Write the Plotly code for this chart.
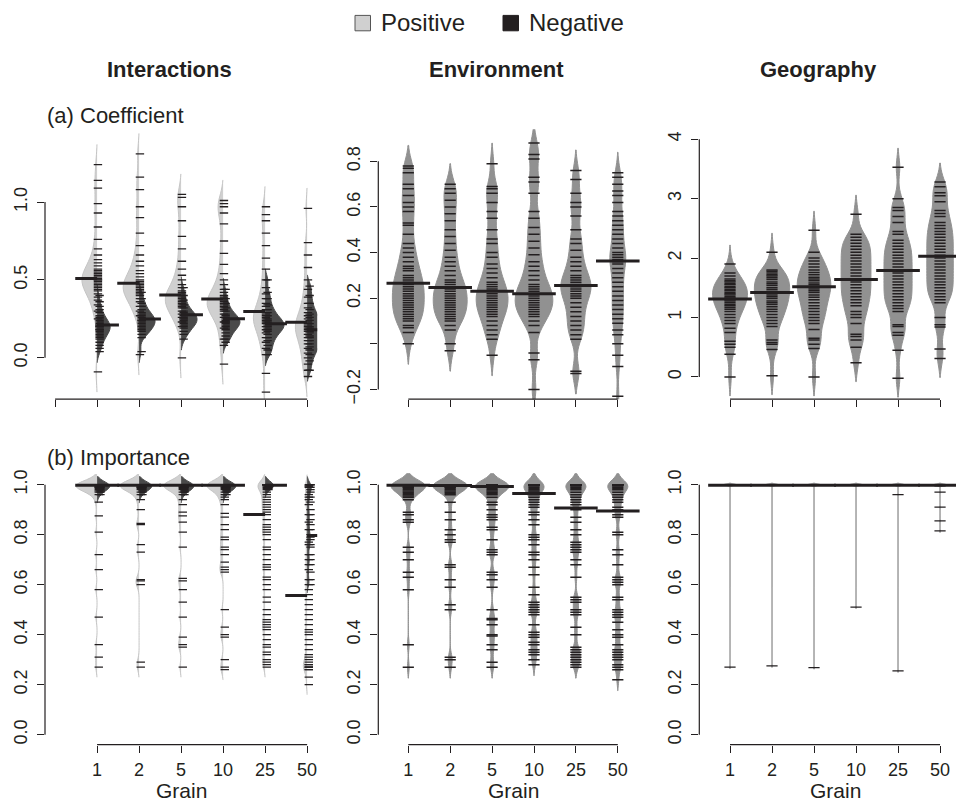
import plotly.graph_objects as go

# ---------------- data ----------------
grain_labels = ["1", "2", "5", "10", "25", "50"]
positions = [1, 2, 3, 4, 5, 6]

# (a) Coefficient - Interactions, positive (left half) and negative (right half)
coef_int_pos = [
    [1.24, 1.14, 1.09, 0.99, 0.93, 0.84, 0.76, 0.7, 0.66, 0.63, 0.61, 0.59, 0.57, 0.56, 0.55, 0.54, 0.53, 0.52, 0.51, 0.5, 0.5, 0.49, 0.48, 0.47, 0.46, 0.45, 0.44, 0.43, 0.41, 0.39, 0.37, 0.34, 0.3, 0.25, -0.09],
    [1.31, 1.16, 1.08, 0.97, 0.9, 0.8, 0.72, 0.66, 0.62, 0.59, 0.56, 0.54, 0.52, 0.5, 0.49, 0.48, 0.47, 0.46, 0.45, 0.44, 0.43, 0.42, 0.41, 0.4, 0.38, 0.36, 0.33, 0.3, 0.27, 0.02],
    [1.05, 1.03, 0.97, 0.88, 0.78, 0.7, 0.62, 0.57, 0.53, 0.5, 0.47, 0.45, 0.43, 0.42, 0.41, 0.4, 0.39, 0.38, 0.37, 0.36, 0.35, 0.34, 0.33, 0.32, 0.3, 0.28, 0.26, 0.23, 0.2, 0.0],
    [1.01, 0.99, 0.97, 0.93, 0.86, 0.75, 0.67, 0.6, 0.54, 0.5, 0.47, 0.44, 0.42, 0.4, 0.39, 0.38, 0.37, 0.36, 0.35, 0.34, 0.33, 0.32, 0.31, 0.3, 0.28, 0.26, 0.23, 0.19, 0.12, 0.08, -0.04],
    [0.97, 0.92, 0.88, 0.8, 0.72, 0.64, 0.57, 0.5, 0.45, 0.41, 0.38, 0.35, 0.33, 0.31, 0.29, 0.28, 0.27, 0.26, 0.25, 0.24, 0.23, 0.22, 0.2, 0.18, 0.16, 0.13, 0.1, 0.06, 0.02, -0.1, -0.22],
    [0.96, 0.74, 0.66, 0.58, 0.5, 0.44, 0.39, 0.35, 0.32, 0.29, 0.27, 0.25, 0.23, 0.22, 0.21, 0.2, 0.19, 0.18, 0.17, 0.15, 0.13, 0.11, 0.09, 0.06, 0.03, 0.0, -0.04, -0.08, -0.12],
]
coef_int_neg = [
    [0.40, 0.36, 0.33, 0.31, 0.29, 0.27, 0.26, 0.25, 0.24, 0.23, 0.22, 0.21, 0.21, 0.2, 0.2, 0.19, 0.18, 0.18, 0.17, 0.16, 0.15, 0.14, 0.13, 0.12, 0.1, 0.08, 0.06, 0.04],
    [0.42, 0.38, 0.35, 0.33, 0.31, 0.29, 0.28, 0.27, 0.26, 0.25, 0.24, 0.24, 0.23, 0.22, 0.21, 0.2, 0.19, 0.18, 0.17, 0.15, 0.13, 0.04],
    [0.45, 0.4, 0.37, 0.34, 0.32, 0.3, 0.29, 0.28, 0.27, 0.26, 0.25, 0.25, 0.24, 0.23, 0.22, 0.21, 0.2, 0.19, 0.17, 0.15, 0.12],
    [0.44, 0.38, 0.35, 0.32, 0.3, 0.28, 0.27, 0.26, 0.25, 0.24, 0.23, 0.23, 0.22, 0.21, 0.2, 0.19, 0.18, 0.16, 0.14, 0.12, 0.1],
    [0.5, 0.42, 0.38, 0.34, 0.31, 0.29, 0.27, 0.25, 0.24, 0.23, 0.22, 0.21, 0.2, 0.19, 0.18, 0.17, 0.15, 0.13, 0.11, 0.08, 0.05, 0.02],
    [0.46, 0.4, 0.35, 0.31, 0.28, 0.26, 0.24, 0.22, 0.2, 0.19, 0.18, 0.17, 0.16, 0.14, 0.13, 0.11, 0.09, 0.07, 0.05, 0.02, -0.02, -0.08],
]
coef_int_pos_mean = [0.51, 0.478, 0.403, 0.378, 0.297, 0.228]
coef_int_neg_mean = [0.21, 0.249, 0.276, 0.25, 0.219, 0.18]

# (a) Coefficient - Environment
coef_env = [
    [0.78, 0.77, 0.75, 0.7, 0.68, 0.65, 0.62, 0.6, 0.58, 0.53, 0.52, 0.48, 0.44, 0.42, 0.4, 0.38, 0.36, 0.34, 0.33, 0.32, 0.3, 0.29, 0.28, 0.27, 0.26, 0.25, 0.24, 0.23, 0.22, 0.21, 0.2, 0.19, 0.18, 0.17, 0.16, 0.15, 0.14, 0.13, 0.12, 0.11, 0.1, 0.08, 0.07, 0.05, 0.0],
    [0.7, 0.68, 0.66, 0.63, 0.6, 0.57, 0.54, 0.5, 0.47, 0.44, 0.41, 0.38, 0.36, 0.34, 0.32, 0.3, 0.28, 0.27, 0.26, 0.25, 0.24, 0.23, 0.22, 0.21, 0.2, 0.19, 0.18, 0.17, 0.16, 0.15, 0.14, 0.13, 0.12, 0.11, 0.1, 0.08, 0.06, 0.0, -0.03],
    [0.79, 0.69, 0.68, 0.66, 0.62, 0.58, 0.55, 0.5, 0.46, 0.44, 0.4, 0.38, 0.35, 0.33, 0.31, 0.29, 0.27, 0.26, 0.25, 0.24, 0.23, 0.22, 0.21, 0.2, 0.19, 0.18, 0.17, 0.16, 0.15, 0.14, 0.13, 0.12, 0.1, 0.08, 0.06, 0.04, 0.02, -0.05],
    [0.88, 0.83, 0.81, 0.73, 0.71, 0.66, 0.58, 0.55, 0.51, 0.48, 0.45, 0.42, 0.39, 0.36, 0.34, 0.32, 0.3, 0.28, 0.26, 0.25, 0.24, 0.23, 0.22, 0.21, 0.2, 0.19, 0.18, 0.17, 0.16, 0.15, 0.14, 0.13, 0.12, 0.1, 0.08, 0.05, -0.04, -0.07, -0.2],
    [0.76, 0.72, 0.66, 0.62, 0.6, 0.56, 0.5, 0.46, 0.44, 0.41, 0.38, 0.36, 0.34, 0.32, 0.3, 0.29, 0.28, 0.27, 0.26, 0.25, 0.24, 0.23, 0.22, 0.21, 0.2, 0.18, 0.16, 0.14, 0.12, 0.1, 0.08, 0.06, 0.04, 0.02, -0.12, -0.13],
    [0.75, 0.73, 0.7, 0.67, 0.65, 0.62, 0.58, 0.56, 0.54, 0.52, 0.5, 0.48, 0.46, 0.44, 0.42, 0.4, 0.39, 0.38, 0.37, 0.36, 0.35, 0.33, 0.31, 0.29, 0.27, 0.25, 0.23, 0.21, 0.19, 0.17, 0.15, 0.13, 0.11, 0.09, 0.06, 0.04, 0.0, -0.05, -0.1, -0.23],
]
coef_env_mean = [0.266, 0.247, 0.23, 0.219, 0.256, 0.363]

# (a) Coefficient - Geography
coef_geo = [
    [1.9, 1.75, 1.7, 1.65, 1.62, 1.6, 1.57, 1.55, 1.52, 1.5, 1.47, 1.45, 1.42, 1.4, 1.38, 1.35, 1.33, 1.3, 1.28, 1.25, 1.22, 1.2, 1.17, 1.14, 1.1, 1.05, 1.0, 0.95, 0.9, 0.82, 0.75, 0.6, 0.55, 0.5, 0.38, 0.0],
    [2.1, 1.8, 1.78, 1.75, 1.72, 1.7, 1.67, 1.64, 1.6, 1.57, 1.54, 1.5, 1.47, 1.44, 1.41, 1.38, 1.35, 1.32, 1.28, 1.25, 1.22, 1.18, 1.14, 1.1, 1.05, 1.0, 0.95, 0.9, 0.85, 0.62, 0.58, 0.55, 0.46, 0.02],
    [2.47, 2.1, 2.0, 1.95, 1.9, 1.85, 1.8, 1.76, 1.72, 1.68, 1.65, 1.62, 1.58, 1.55, 1.52, 1.48, 1.45, 1.42, 1.38, 1.34, 1.3, 1.25, 1.2, 1.15, 1.1, 1.05, 1.0, 0.95, 0.9, 0.8, 0.65, 0.62, 0.55, 0.48, 0.0],
    [2.74, 2.4, 2.35, 2.3, 2.25, 2.2, 2.15, 2.1, 2.05, 2.0, 1.95, 1.9, 1.85, 1.8, 1.75, 1.7, 1.65, 1.6, 1.55, 1.5, 1.45, 1.4, 1.35, 1.3, 1.25, 1.2, 1.1, 1.05, 1.0, 0.9, 0.72, 0.68, 0.62, 0.5, 0.24],
    [3.53, 3.0, 2.85, 2.8, 2.7, 2.6, 2.45, 2.4, 2.3, 2.25, 2.2, 2.15, 2.1, 2.05, 2.0, 1.95, 1.9, 1.85, 1.8, 1.75, 1.7, 1.65, 1.6, 1.55, 1.5, 1.45, 1.4, 1.35, 1.3, 1.25, 1.2, 1.15, 1.1, 0.88, 0.85, 0.75, 0.7, 0.45, -0.02],
    [3.28, 3.2, 3.1, 3.05, 2.95, 2.8, 2.75, 2.7, 2.6, 2.55, 2.5, 2.45, 2.4, 2.35, 2.3, 2.25, 2.2, 2.15, 2.1, 2.05, 2.0, 1.95, 1.9, 1.85, 1.8, 1.75, 1.7, 1.65, 1.6, 1.55, 1.5, 1.45, 1.4, 1.35, 1.3, 1.25, 1.0, 0.88, 0.84, 0.47, 0.31],
]
coef_geo_mean = [1.31, 1.42, 1.52, 1.64, 1.79, 2.03]

# (b) Importance - Interactions
imp_int_pos = [
    [1.0, 1.0, 1.0, 1.0, 1.0, 1.0, 1.0, 1.0, 1.0, 1.0, 1.0, 1.0, 0.995, 0.995, 0.99, 0.99, 0.985, 0.98, 0.975, 0.97, 0.96, 0.93, 0.875, 0.81, 0.72, 0.66, 0.58, 0.47, 0.36, 0.31, 0.27],
    [1.0, 1.0, 1.0, 1.0, 1.0, 1.0, 1.0, 1.0, 1.0, 1.0, 1.0, 1.0, 0.995, 0.99, 0.99, 0.985, 0.98, 0.97, 0.96, 0.94, 0.9, 0.845, 0.84, 0.76, 0.73, 0.62, 0.615, 0.6, 0.29, 0.27],
    [1.0, 1.0, 1.0, 1.0, 1.0, 1.0, 1.0, 1.0, 1.0, 1.0, 1.0, 1.0, 0.995, 0.99, 0.985, 0.98, 0.97, 0.96, 0.94, 0.92, 0.89, 0.875, 0.85, 0.81, 0.75, 0.625, 0.615, 0.58, 0.53, 0.47, 0.39, 0.36, 0.35, 0.27],
    [1.0, 1.0, 1.0, 1.0, 1.0, 1.0, 1.0, 1.0, 1.0, 1.0, 1.0, 1.0, 0.995, 0.99, 0.985, 0.98, 0.97, 0.96, 0.95, 0.94, 0.92, 0.885, 0.87, 0.84, 0.82, 0.79, 0.78, 0.75, 0.74, 0.72, 0.69, 0.67, 0.66, 0.65, 0.5, 0.43, 0.4, 0.39, 0.3, 0.27, 0.26],
    [1.0, 1.0, 1.0, 1.0, 1.0, 1.0, 1.0, 1.0, 0.995, 0.99, 0.985, 0.98, 0.97, 0.96, 0.95, 0.94, 0.93, 0.92, 0.91, 0.9, 0.89, 0.88, 0.86, 0.84, 0.83, 0.82, 0.81, 0.8, 0.78, 0.75, 0.74, 0.72, 0.7, 0.68, 0.67, 0.66, 0.63, 0.62, 0.6, 0.58, 0.55, 0.53, 0.5, 0.48, 0.46, 0.45, 0.44, 0.43, 0.42, 0.4, 0.38, 0.36, 0.35, 0.33, 0.32, 0.3, 0.29, 0.28, 0.27],
    [1.0, 0.995, 0.99, 0.96, 0.95, 0.94, 0.92, 0.88, 0.85, 0.82, 0.77, 0.76, 0.72, 0.7, 0.68, 0.66, 0.62, 0.6, 0.58, 0.56, 0.54, 0.52, 0.5, 0.48, 0.46, 0.44, 0.42, 0.41, 0.4, 0.38, 0.36, 0.34, 0.32, 0.31, 0.3, 0.29, 0.28, 0.28, 0.27, 0.27, 0.27, 0.26, 0.26, 0.23, 0.2],
]
imp_int_neg = [
    [1.0, 1.0, 1.0, 1.0, 1.0, 1.0, 1.0, 1.0, 0.995, 0.99, 0.99, 0.985, 0.98, 0.975, 0.97, 0.96],
    [1.0, 1.0, 1.0, 1.0, 1.0, 1.0, 1.0, 1.0, 0.995, 0.99, 0.99, 0.985, 0.98, 0.975, 0.97, 0.96],
    [1.0, 1.0, 1.0, 1.0, 1.0, 1.0, 1.0, 1.0, 0.995, 0.99, 0.99, 0.985, 0.98, 0.975, 0.97, 0.96],
    [1.0, 1.0, 1.0, 1.0, 1.0, 1.0, 1.0, 1.0, 0.995, 0.99, 0.99, 0.985, 0.98, 0.975, 0.97, 0.96],
    [1.0, 1.0, 1.0, 1.0, 1.0, 1.0, 1.0, 1.0, 0.995, 0.99, 0.985, 0.98],
    [1.0, 1.0, 0.99, 0.98, 0.97, 0.95, 0.93, 0.9, 0.88, 0.86, 0.84, 0.82, 0.8, 0.79, 0.78, 0.76, 0.75, 0.72, 0.7, 0.68, 0.65, 0.62, 0.6],
]
imp_int_pos_mean = [0.998, 0.998, 0.998, 0.998, 0.881, 0.557]
imp_int_neg_mean = [0.998, 0.998, 0.998, 0.998, 0.998, 0.797]

# (b) Importance - Environment
imp_env = [
    [1.0, 1.0, 1.0, 1.0, 1.0, 1.0, 1.0, 1.0, 1.0, 1.0, 1.0, 1.0, 1.0, 1.0, 0.995, 0.99, 0.99, 0.985, 0.98, 0.975, 0.97, 0.965, 0.96, 0.955, 0.95, 0.94, 0.89, 0.88, 0.86, 0.85, 0.75, 0.73, 0.7, 0.65, 0.63, 0.58, 0.36, 0.27],
    [1.0, 1.0, 1.0, 1.0, 1.0, 1.0, 1.0, 1.0, 1.0, 1.0, 1.0, 1.0, 1.0, 1.0, 0.995, 0.99, 0.99, 0.985, 0.98, 0.975, 0.97, 0.965, 0.96, 0.93, 0.89, 0.86, 0.82, 0.8, 0.78, 0.77, 0.68, 0.67, 0.62, 0.59, 0.52, 0.5, 0.31, 0.3, 0.27],
    [1.0, 1.0, 1.0, 1.0, 1.0, 1.0, 1.0, 1.0, 1.0, 1.0, 1.0, 1.0, 0.995, 0.99, 0.99, 0.985, 0.98, 0.975, 0.97, 0.965, 0.96, 0.95, 0.93, 0.92, 0.9, 0.88, 0.87, 0.86, 0.83, 0.82, 0.78, 0.74, 0.73, 0.72, 0.65, 0.64, 0.62, 0.59, 0.5, 0.465, 0.46, 0.44, 0.4, 0.395, 0.36, 0.34, 0.29, 0.27],
    [1.0, 1.0, 1.0, 1.0, 1.0, 1.0, 1.0, 1.0, 0.995, 0.99, 0.985, 0.98, 0.975, 0.97, 0.96, 0.95, 0.94, 0.93, 0.92, 0.91, 0.89, 0.88, 0.86, 0.84, 0.8, 0.79, 0.78, 0.76, 0.73, 0.72, 0.7, 0.67, 0.64, 0.59, 0.56, 0.53, 0.52, 0.51, 0.5, 0.49, 0.48, 0.44, 0.41, 0.4, 0.39, 0.37, 0.36, 0.34, 0.33, 0.32, 0.3, 0.28],
    [1.0, 1.0, 1.0, 1.0, 1.0, 1.0, 1.0, 1.0, 0.995, 0.99, 0.985, 0.98, 0.97, 0.96, 0.95, 0.94, 0.93, 0.92, 0.9, 0.87, 0.85, 0.82, 0.8, 0.77, 0.76, 0.75, 0.74, 0.73, 0.7, 0.68, 0.63, 0.55, 0.54, 0.53, 0.5, 0.49, 0.48, 0.43, 0.4, 0.35, 0.34, 0.33, 0.32, 0.31, 0.3, 0.29, 0.28, 0.27],
    [1.0, 1.0, 1.0, 1.0, 1.0, 1.0, 1.0, 1.0, 0.995, 0.99, 0.985, 0.98, 0.97, 0.96, 0.95, 0.94, 0.93, 0.91, 0.9, 0.88, 0.87, 0.81, 0.8, 0.74, 0.72, 0.68, 0.63, 0.62, 0.61, 0.6, 0.55, 0.54, 0.5, 0.49, 0.48, 0.47, 0.45, 0.42, 0.4, 0.39, 0.36, 0.34, 0.33, 0.32, 0.31, 0.3, 0.28, 0.27, 0.26, 0.22],
]
imp_env_mean = [0.998, 0.997, 0.993, 0.965, 0.907, 0.895]

# (b) Importance - Geography
imp_geo = [
    [1.0, 1.0, 1.0, 1.0, 1.0, 1.0, 1.0, 1.0, 1.0, 1.0, 1.0, 1.0, 1.0, 1.0, 1.0, 0.27],
    [1.0, 1.0, 1.0, 1.0, 1.0, 1.0, 1.0, 1.0, 1.0, 1.0, 1.0, 1.0, 1.0, 1.0, 1.0, 0.275],
    [1.0, 1.0, 1.0, 1.0, 1.0, 1.0, 1.0, 1.0, 1.0, 1.0, 1.0, 1.0, 1.0, 1.0, 1.0, 0.268],
    [1.0, 1.0, 1.0, 1.0, 1.0, 1.0, 1.0, 1.0, 1.0, 1.0, 1.0, 1.0, 1.0, 1.0, 1.0, 0.51],
    [1.0, 1.0, 1.0, 1.0, 1.0, 1.0, 1.0, 1.0, 1.0, 1.0, 1.0, 1.0, 1.0, 1.0, 0.96, 0.255],
    [1.0, 1.0, 1.0, 1.0, 1.0, 1.0, 1.0, 1.0, 1.0, 1.0, 1.0, 0.995, 0.97, 0.91, 0.855, 0.815],
]
imp_geo_mean = [0.998, 0.998, 0.998, 0.998, 0.998, 0.998]

# ---------------- style ----------------
W, H = 956, 809
FONT = "Liberation Sans, Arial, Helvetica, sans-serif"
INK = "#231f20"
LIGHT = "#d0d0d0"
DARK = "#4a4a4a"
MID = "#919191"

# violin widths (style, data units) per bean
w_int_pos_top = [0.72, 0.76, 0.75, 0.76, 0.56, 0.56]
w_int_neg_top = [0.62, 0.76, 0.76, 0.8, 0.9, 0.9]
w_env_top = [0.76, 0.81, 0.76, 0.9, 0.72, 0.38]
w_geo_top = [0.83, 0.84, 0.8, 0.71, 0.67, 0.63]
w_int_pos_bot = [1.0, 0.9, 0.82, 0.76, 0.34, 0.18]
w_int_neg_bot = [0.6, 0.6, 0.6, 0.6, 0.4, 0.2]
w_env_bot = [0.82, 0.82, 0.8, 0.48, 0.48, 0.48]
w_geo_bot = [0.3, 0.3, 0.3, 0.3, 0.3, 0.3]

# subplot geometry (screen pixels of the reference)
col_px = [(45, 317.2), (378.3, 648.8), (699.3, 956)]
col_xrange = [[-0.24, 6.24], [0.284, 6.74], [0.269, 6.38]]
row_px = [(130, 401.7), (465.1, 749.3)]
top_yrange = [[-0.266, 1.468], [-0.243, 0.941], [-0.375, 4.17]]
bot_yrange = [-0.04, 1.09]


def px2x(px):
    return px / W


def px2y(py):
    return 1 - py / H


def xdom(a, b):
    return [px2x(a), min(px2x(b), 1.0)]


def ydom(top, bot):
    return [px2y(bot), px2y(top)]


fig = go.Figure()


def ax_ids(row, col):
    k = row * 3 + col + 1
    return ("x" if k == 1 else f"x{k}"), ("y" if k == 1 else f"y{k}")


def add_bean(row, col, pos, vals, side, width, bw, fill, line_col):
    xa, ya = ax_ids(row, col)
    fig.add_trace(go.Violin(
        x0=pos, y=vals, side=side, width=width, scalemode="width",
        bandwidth=bw, fillcolor=fill, line=dict(color=line_col, width=1),
        points=False, hoverinfo="skip", showlegend=False,
        xaxis=xa, yaxis=ya, orientation="v", spanmode="soft",
    ))


def add_beanlines(row, col, pos, vals, size=8, shift=0.0, lw=1.1):
    xa, ya = ax_ids(row, col)
    fig.add_trace(go.Scatter(
        x=[pos + shift] * len(vals), y=vals, mode="markers",
        marker=dict(symbol="line-ew", size=size, color=INK,
                    line=dict(width=lw, color=INK)),
        hoverinfo="skip", showlegend=False, xaxis=xa, yaxis=ya,
    ))


def add_means(row, col, means, part):
    xa, ya = ax_ids(row, col)
    xs, ys = [], []
    for p, m in zip(positions, means):
        if part == "left":
            xs += [p - 0.52, p, None]
        elif part == "right":
            xs += [p, p + 0.52, None]
        else:
            xs += [p - 0.52, p + 0.52, None]
        ys += [m, m, None]
    fig.add_trace(go.Scatter(
        x=xs, y=ys, mode="lines", line=dict(color=INK, width=3),
        hoverinfo="skip", showlegend=False, xaxis=xa, yaxis=ya,
    ))


# ---- top row: coefficients ----
for i, p in enumerate(positions):
    add_bean(0, 0, p, coef_int_pos[i], "negative", w_int_pos_top[i], 0.065, LIGHT, "#c4c4c4")
    add_bean(0, 0, p, coef_int_neg[i], "positive", w_int_neg_top[i], 0.035, DARK, DARK)
    add_bean(0, 1, p, coef_env[i], "both", w_env_top[i], 0.045, MID, MID)
    add_bean(0, 2, p, coef_geo[i], "both", w_geo_top[i], 0.16, MID, MID)
for i, p in enumerate(positions):
    add_beanlines(0, 0, p, coef_int_pos[i], size=6, shift=0.02, lw=1.3)
    add_beanlines(0, 0, p, coef_int_neg[i], size=6, shift=0.06, lw=1.3)
    add_beanlines(0, 1, p, coef_env[i], size=8, lw=1.5)
    add_beanlines(0, 2, p, coef_geo[i], size=8, lw=1.5)
add_means(0, 0, coef_int_pos_mean, "left")
add_means(0, 0, coef_int_neg_mean, "right")
add_means(0, 1, coef_env_mean, "both")
add_means(0, 2, coef_geo_mean, "both")

# ---- bottom row: importance ----
for i, p in enumerate(positions):
    add_bean(1, 0, p, imp_int_pos[i], "negative", w_int_pos_bot[i], 0.02, LIGHT, "#c4c4c4")
    add_bean(1, 0, p, imp_int_neg[i], "positive", w_int_neg_bot[i], 0.016, DARK, DARK)
    add_bean(1, 1, p, imp_env[i], "both", w_env_bot[i], 0.022, MID, MID)
    add_bean(1, 2, p, imp_geo[i], "both", w_geo_bot[i], 0.003, MID, MID)
for i, p in enumerate(positions):
    add_beanlines(1, 0, p, imp_int_pos[i], size=6, shift=0.04, lw=1.3)
    add_beanlines(1, 0, p, imp_int_neg[i], size=6, shift=0.08, lw=1.3)
    add_beanlines(1, 1, p, imp_env[i], size=8, lw=1.5)
    add_beanlines(1, 2, p, imp_geo[i], size=8, lw=1.2)
add_means(1, 0, imp_int_pos_mean, "left")
add_means(1, 0, imp_int_neg_mean, "right")
add_means(1, 1, imp_env_mean, "both")
add_means(1, 2, imp_geo_mean, "both")

# ---------------- axes ----------------
top_yticks = [
    ([0.0, 0.5, 1.0], ["0.0", "0.5", "1.0"]),
    ([-0.2, 0.0, 0.2, 0.4, 0.6, 0.8], ["\u22120.2", "", "0.2", "0.4", "0.6", "0.8"]),
    ([0, 1, 2, 3, 4], ["0", "1", "2", "3", "4"]),
]
bot_yticks = ([0.0, 0.2, 0.4, 0.6, 0.8, 1.0], ["0.0", "0.2", "0.4", "0.6", "0.8", "1.0"])

layout = dict(
    width=W, height=H, margin=dict(l=0, r=0, t=0, b=0),
    paper_bgcolor="white", plot_bgcolor="white",
    violinmode="overlay", violingap=0, violingroupgap=0,
    font=dict(family=FONT, color=INK, size=17),
    showlegend=False,
)
shapes = []
annotations = []

for row in range(2):
    for col in range(3):
        k = row * 3 + col + 1
        xname = "xaxis" if k == 1 else f"xaxis{k}"
        yname = "yaxis" if k == 1 else f"yaxis{k}"
        xa, ya = ax_ids(row, col)
        if row == 0:
            xt = [0, 1, 2, 3, 4, 5, 6] if col == 0 else positions
            xtt = [""] * len(xt)
            yv, yt = top_yticks[col]
            yr = top_yrange[col]
        else:
            xt = positions
            xtt = grain_labels
            yv, yt = bot_yticks
            yr = bot_yrange
        layout[xname] = dict(
            domain=xdom(*col_px[col]), range=col_xrange[col], anchor=ya,
            tickmode="array", tickvals=xt, ticktext=xtt,
            ticks="outside", ticklen=7, tickwidth=1, tickcolor=INK,
            showline=False, showgrid=False, zeroline=False,
            ticklabelstandoff=2,
            tickfont=dict(size=18, color=INK, family=FONT), fixedrange=True,
        )
        layout[yname] = dict(
            domain=ydom(*row_px[row]), range=yr, anchor=xa,
            tickmode="array", tickvals=yv, ticktext=yt, tickangle=-90,
            ticks="outside", ticklen=7, tickwidth=1, tickcolor=INK,
            showline=False, showgrid=False, zeroline=False,
            ticklabelstandoff=3,
            tickfont=dict(size=18, color=INK, family=FONT), fixedrange=True,
        )
        # R-style axis segments spanning first to last tick
        shapes.append(dict(type="line", xref=f"{xa} domain", yref=ya,
                           x0=0, x1=0, y0=min(yv), y1=max(yv),
                           line=dict(color=INK, width=1.2)))
        shapes.append(dict(type="line", xref=xa, yref=f"{ya} domain",
                           x0=min(xt), x1=max(xt), y0=0, y1=0,
                           line=dict(color=INK, width=1.2)))


def note(text, x, y, size, anchor="center", bold=False):
    annotations.append(dict(
        text=f"<b>{text}</b>" if bold else text, x=px2x(x), y=px2y(y),
        xref="paper", yref="paper", showarrow=False,
        xanchor=anchor, yanchor="middle",
        font=dict(size=size, family=FONT, color=INK)))


# column titles
for text, cx in zip(["Interactions", "Environment", "Geography"], [169, 496, 818]):
    note(text, cx, 70, 22, bold=True)
# panel labels
note("(a) Coefficient", 45, 116, 22, anchor="left")
note("(b) Importance", 45, 460, 22, anchor="left")
# Grain labels
for cx in [181, 513, 835]:
    note("Grain", cx, 795, 21)
# legend
shapes.append(dict(type="rect", xref="paper", yref="paper",
                   x0=px2x(355), x1=px2x(370.5), y0=px2y(31), y1=px2y(15.5),
                   fillcolor=LIGHT, line=dict(color="#555555", width=1)))
shapes.append(dict(type="rect", xref="paper", yref="paper",
                   x0=px2x(503), x1=px2x(518.5), y0=px2y(31), y1=px2y(15.5),
                   fillcolor=INK, line=dict(color=INK, width=1)))
note("Positive", 379, 23, 24, anchor="left")
note("Negative", 527, 23, 24, anchor="left")

layout["shapes"] = shapes
layout["annotations"] = annotations
fig.update_layout(**layout)
fig.write_html(
    "out.html",
    config={"displayModeBar": False, "staticPlot": True},
    post_script="document.body.style.margin='0';document.body.style.overflow='hidden';",
)
